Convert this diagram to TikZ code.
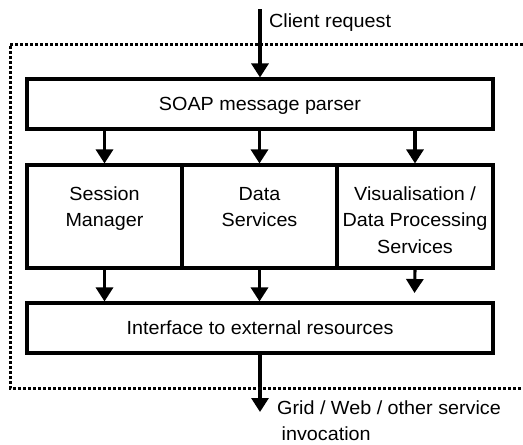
\documentclass[tikz,border=0pt]{standalone}
\usepackage{fontspec}
\setmainfont{Liberation Sans}[FakeStretch=1.04]
\usetikzlibrary{arrows.meta}
\tikzset{
  box/.style={draw, line width=3.1pt, rectangle, inner sep=0pt},
  arr/.style={line width=3.1pt, -{Triangle[length=14pt,width=17pt]}},
  frame/.style={line width=3pt, dash pattern=on 2.6pt off 2.4pt},
  txt/.style={inner sep=0pt, align=center, font=\fontsize{19}{26.7}\selectfont},
}
\begin{document}
\begin{tikzpicture}[x=1pt,y=-1pt]
\useasboundingbox (0,0) rectangle (523,445);
% frame
\draw[frame] (523,44) -- (10,44) -- (10,388) -- (523,388);
% boxes
\node[box, minimum width=466pt, minimum height=50pt] (soap) at (260,104) {};
\node[txt, anchor=base] (soaptxt) at (260,110.5) {SOAP message parser};
\node[box, minimum width=155pt, minimum height=103pt] (sm) at (104.5,216.5) {};
\node[box, minimum width=155pt, minimum height=103pt] (ds) at (259.5,216.5) {};
\node[box, minimum width=156pt, minimum height=103pt] (vp) at (415,216.5) {};
\node[txt, anchor=base] (smtxt) at (104.5,226.7) {Session\\Manager};
\node[txt, anchor=base] (dstxt) at (259.5,226.7) {Data\\Services};
\node[txt, anchor=base] (vptxt) at (415,253.4) {Visualisation /\\Data Processing\\Services};
\node[box, minimum width=466pt, minimum height=50pt] (iface) at (260,328) {};
\node[txt, anchor=base] (ifacetxt) at (260,334.5) {Interface to external resources};
% external labels
\coordinate (in) at (260,9);
\coordinate (out) at (260,412);
\coordinate (vpend) at (414.5,293);
\node[txt, anchor=base west] (client) at (269,27) {Client request};
\node[txt, anchor=base west, align=left, font=\fontsize{19}{26}\selectfont] (grid) at (277,440) {Grid / Web / other service\\\hspace*{4.5pt}invocation};
% arrows
\draw[arr] (in) -- (soap.north);
\draw[arr] (sm.north |- soap.south) -- (sm.north);
\draw[arr] (ds.north |- soap.south) -- (ds.north);
\draw[arr] (vp.north |- soap.south) -- (vp.north);
\draw[arr] (sm.south) -- (sm.south |- iface.north);
\draw[arr] (ds.south) -- (ds.south |- iface.north);
\draw[arr] (vp.south) -- (vpend);
\draw[arr] (iface.south) -- (out);
\end{tikzpicture}
\end{document}
